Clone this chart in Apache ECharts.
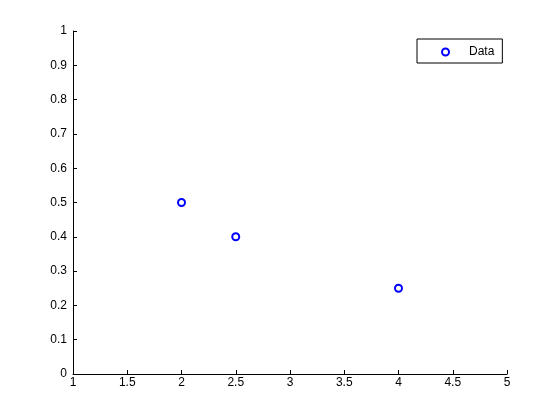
<!DOCTYPE html>
<html><head><meta charset="utf-8">
<script src="https://cdn.jsdelivr.net/npm/echarts@6/dist/echarts.min.js"></script>
<style>html,body{margin:0;padding:0;background:#fff}#c{width:560px;height:420px}</style>
</head><body><div id="c"></div>
<script>
var xValues = [2, 2.5, 4];
var yValues = [0.5, 0.4, 0.25];
var seriesName = 'Data';
var chart = echarts.init(document.getElementById('c'), null, {renderer: 'canvas'});
var font = 'Liberation Sans, Arial, Helvetica, sans-serif';
var axisCommon = {
  axisLine: {show: true, onZero: false, lineStyle: {color: '#000', width: 1}},
  axisTick: {show: true, inside: true, length: 4, lineStyle: {color: '#000'}},
  splitLine: {show: false}
};
chart.setOption({
  animation: false,
  backgroundColor: '#fff',
  grid: {left: 73, right: 53, top: 31, bottom: 46, containLabel: false},
  xAxis: Object.assign({type: 'value', min: 1, max: 5, interval: 0.5}, axisCommon, {
    axisLabel: {color: '#000', fontFamily: font, fontSize: 12, margin: 3}
  }),
  yAxis: Object.assign({type: 'value', min: 0, max: 1, interval: 0.1}, axisCommon, {
    axisLabel: {color: '#000', fontFamily: font, fontSize: 12, margin: 6}
  }),
  legend: {
    show: true, left: 417, top: 39, orient: 'vertical',
    borderColor: '#000', borderWidth: 1, borderRadius: 0,
    padding: [6, 8, 4, 24], itemWidth: 7, itemHeight: 7, itemGap: 0,
    itemStyle: {color: '#0000ff', borderColor: '#0000ff', borderWidth: 2, opacity: 1},
    textStyle: {color: '#000', fontFamily: font, fontSize: 12, padding: [0, 0, 0, 15], lineHeight: 14},
    data: [{name: seriesName, icon: 'emptyCircle'}]
  },
  series: [{
    name: seriesName, type: 'scatter',
    data: xValues.map(function (x, i) { return [x, yValues[i]]; }),
    symbol: 'emptyCircle', symbolSize: 7,
    itemStyle: {color: '#0000ff', borderColor: '#0000ff', borderWidth: 2, opacity: 1}
  }]
});
</script></body></html>
